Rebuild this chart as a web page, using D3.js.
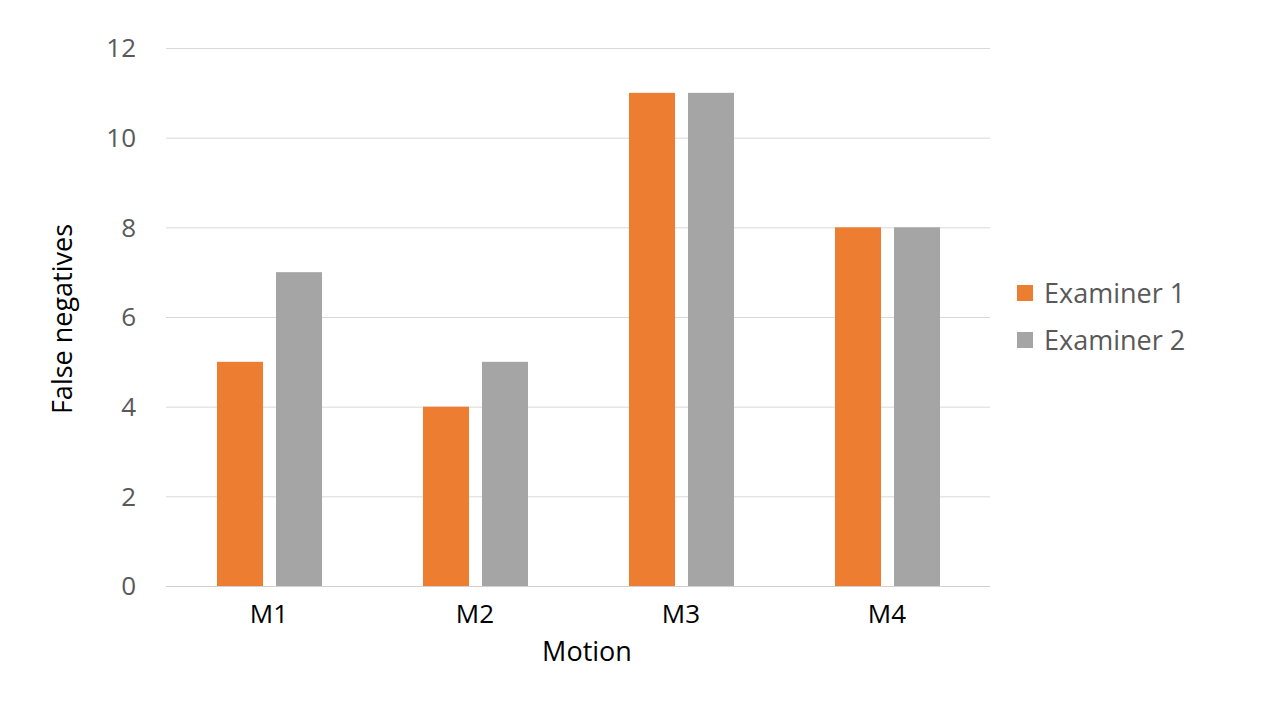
<!DOCTYPE html>
<html><head><meta charset="utf-8">
<script src="https://cdn.jsdelivr.net/npm/d3@7"></script>
<style>body{margin:0;background:#fff;} text{font-family:"Open Sans",sans-serif;}</style>
</head><body><svg id="c" width="1280" height="720"></svg>
<script>
const categories = ["M1","M2","M3","M4"];
const series = ["Examiner 1","Examiner 2"];
const examiner1 = [5,4,11,8];
const examiner2 = [7,5,11,8];
const yTicks = [0,2,4,6,8,10,12];
const colors = ["#ED7D31","#A5A5A5"];
const values = [examiner1, examiner2];

const svg = d3.select("#c");
const x0 = d3.scaleBand().domain(categories).range([166,990]).padding(0);
const x1 = d3.scaleBand().domain(series).range([51,156]).paddingInner(0.22).paddingOuter(0);
const y = d3.scaleLinear().domain([0,12]).range([586,48]);

// gridlines
svg.append("g").selectAll("line").data(yTicks).join("line")
  .attr("x1",166).attr("x2",990)
  .attr("y1",d=>y(d)+0.5).attr("y2",d=>y(d)+0.5)
  .attr("stroke",d=>d===0?"#d0d0d0":"#d9d9d9").attr("stroke-width",1);

// y tick labels
svg.append("g").selectAll("text").data(yTicks).join("text")
  .attr("x",136).attr("y",d=>y(d)).attr("dy","0.36em")
  .attr("text-anchor","end").attr("font-size",26).attr("fill","#595959")
  .text(d=>d);

// bars
series.forEach((s,si)=>{
  svg.append("g").selectAll("rect").data(categories).join("rect")
    .attr("x",(c)=>x0(c)+x1(s))
    .attr("width",x1.bandwidth())
    .attr("y",(c,i)=>y(values[si][i]))
    .attr("height",(c,i)=>y(0)-y(values[si][i]))
    .attr("fill",colors[si]);
});

// x labels
svg.append("g").selectAll("text").data(categories).join("text")
  .attr("x",c=>x0(c)+x0.bandwidth()/2).attr("y",614).attr("dy","0.36em")
  .attr("text-anchor","middle").attr("font-size",26).attr("fill","#000")
  .text(c=>c);

// axis titles
svg.append("text").attr("x",587).attr("y",651).attr("dy","0.36em")
  .attr("text-anchor","middle").attr("font-size",27).attr("fill","#000").text("Motion");
svg.append("text").attr("transform","translate(62,319) rotate(-90)").attr("dy","0.36em")
  .attr("text-anchor","middle").attr("font-size",27).attr("fill","#000").text("False negatives");

// legend
const lg = svg.append("g").selectAll("g").data(series).join("g")
  .attr("transform",(d,i)=>`translate(1017,${293+i*47})`);
lg.append("rect").attr("x",0).attr("y",-8).attr("width",16).attr("height",16).attr("fill",(d,i)=>colors[i]);
lg.append("text").attr("x",27).attr("y",0).attr("dy","0.36em").attr("font-size",27).attr("fill","#595959").text(d=>d);
</script></body></html>
